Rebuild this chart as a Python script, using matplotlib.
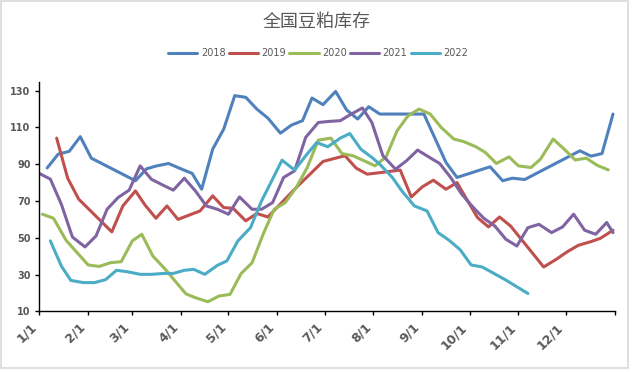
import matplotlib
matplotlib.use("Agg")
import matplotlib.pyplot as plt
from matplotlib.patches import Rectangle
import pandas as pd

plt.rcParams['font.family'] = ['DejaVu Sans', 'Noto Sans CJK SC']

# weekly stock readings, plotted on a common Jan-Dec axis
dates_2018 = ["01-06", "01-13", "01-20", "01-27", "02-03", "03-03", "03-10", "03-16", "03-24",
              "03-31", "04-08", "04-14", "04-21", "04-28", "05-05", "05-12", "05-19", "05-26",
              "06-03", "06-10", "06-17", "06-23", "06-30", "07-08", "07-15", "07-22", "07-29",
              "08-05", "09-02", "09-16", "09-23", "10-14", "10-22", "10-28", "11-05", "12-10",
              "12-17", "12-24", "12-31"]
stock_2018 = [88, 95.5, 97, 105, 93.3, 81, 87.5, 89, 90.4,
              87.8, 85, 76.4, 98.2, 109.1, 127.3, 126.4, 120, 115.1,
              106.9, 111.3, 113.7, 126, 122.4, 129.6, 119.5, 114.6, 121.3,
              117.3, 117.3, 91, 82.8, 88.6, 81, 82.4, 81.7, 97.3,
              94.4, 95.8, 117.3]

dates_2019 = ["01-12", "01-19", "01-26", "02-16", "02-23", "03-03", "03-09", "03-16", "03-23",
              "03-30", "04-13", "04-21", "04-28", "05-04", "05-12", "05-19", "05-26", "06-13",
              "06-30", "07-08", "07-14", "07-21", "07-28", "08-04", "08-18", "08-25", "09-01",
              "09-08", "09-16", "09-23", "10-06", "10-13", "10-20", "10-27", "11-17", "11-25",
              "12-02", "12-09", "12-17", "12-23", "12-31"]
stock_2019 = [104.2, 82.4, 71, 53.2, 67.3, 75.5, 67.9, 60.6, 67.3,
              60, 64.6, 72.8, 66.4, 66, 59.2, 63.2, 61.3, 77.3,
              91.5, 93.3, 94.6, 87.9, 84.6, 85.3, 86.8, 72.2, 77.7,
              81.3, 76.4, 80, 61, 55.9, 61.3, 56.4, 34.1, 38.3,
              42.4, 45.9, 47.9, 49.7, 54.1]

dates_2020 = ["01-03", "01-10", "01-18", "01-25", "02-01", "02-08", "02-15", "02-22", "03-01",
              "03-07", "03-14", "03-22", "03-29", "04-04", "04-10", "04-18", "04-25", "05-02",
              "05-09", "05-16", "05-23", "05-30", "06-06", "06-13", "06-20", "06-27", "07-05",
              "07-12", "07-19", "07-26", "08-02", "08-09", "08-16", "08-23", "08-30", "09-06",
              "09-13", "09-21", "09-27", "10-05", "10-11", "10-18", "10-26", "11-01", "11-09",
              "11-15", "11-23", "11-30", "12-07", "12-14", "12-21", "12-28"]
stock_2020 = [62.8, 60.6, 48.6, 41.9, 35.2, 34.4, 36.4, 37, 48.3,
              51.9, 40.1, 32.8, 25.6, 19.5, 17.4, 15.2, 18.3, 19.2,
              30.5, 36.4, 51.9, 65.5, 69.1, 77.3, 88.2, 103.1, 104.2,
              95.8, 94.6, 91.9, 89.1, 94, 108.2, 116.4, 120, 117.3,
              110, 103.7, 102.4, 99.5, 96.4, 90.4, 94, 89.1, 88.2,
              92.8, 103.7, 98.2, 92.3, 93.3, 89.4, 86.9]

dates_2021 = ["01-01", "01-08", "01-15", "01-22", "01-30", "02-06", "02-13", "02-20", "02-27",
              "03-06", "03-13", "03-20", "03-27", "04-03", "04-10", "04-17", "04-24", "05-01",
              "05-08", "05-16", "05-22", "05-29", "06-05", "06-12", "06-19", "06-27", "07-04",
              "07-11", "07-18", "07-25", "07-31", "08-07", "08-15", "08-22", "08-29", "09-05",
              "09-12", "09-19", "09-26", "10-03", "10-10", "10-17", "10-24", "10-31", "11-07",
              "11-14", "11-22", "11-29", "12-06", "12-13", "12-20", "12-27", "12-31"]
stock_2021 = [85, 81.9, 68.2, 50.4, 45, 51, 65.5, 71.9, 75.9,
              89.1, 81.9, 78.8, 75.9, 82.4, 75.5, 67.3, 65.5, 62.8,
              72.2, 65.5, 65.5, 69.1, 82.8, 86.4, 104.6, 112.7, 113.3,
              113.7, 117.3, 120.6, 112.7, 94.6, 87.3, 91.9, 97.7, 94,
              90.4, 82.8, 73.7, 66.8, 60.6, 56.4, 49.2, 45.5, 55.5,
              57.3, 52.8, 55.9, 62.8, 54.1, 51.9, 58.3, 52.8]

dates_2022 = ["01-08", "01-15", "01-21", "01-29", "02-05", "02-12", "02-19", "02-26", "03-06",
              "03-13", "03-21", "03-27", "04-03", "04-09", "04-16", "04-24", "04-30", "05-07",
              "05-15", "05-22", "05-29", "06-04", "06-12", "06-19", "06-26", "07-03", "07-11",
              "07-17", "07-24", "07-31", "08-05", "08-13", "08-19", "08-27", "09-04", "09-11",
              "09-18", "09-25", "10-02", "10-09", "10-16", "10-24", "10-31", "11-07"]
stock_2022 = [48.3, 34.6, 26.8, 25.6, 25.6, 27.2, 32.3, 31.5, 30.1,
              30.1, 30.6, 30.6, 32.3, 32.8, 30.1, 35, 37.4, 48.3,
              55.5, 70, 81.9, 92.2, 86.8, 94.6, 101.8, 99.5, 104.2,
              106.7, 98.2, 93.7, 90, 82.8, 75.5, 67.3, 64.6, 52.8,
              48.6, 43.5, 35.2, 34.1, 30.8, 27, 23.3, 19.7]

series = [
    ("2018", dates_2018, stock_2018, "#4f81bd"),
    ("2019", dates_2019, stock_2019, "#c0504d"),
    ("2020", dates_2020, stock_2020, "#9bbb59"),
    ("2021", dates_2021, stock_2021, "#8064a2"),
    ("2022", dates_2022, stock_2022, "#4bacc6"),
]

month_labels = ["1/1", "2/1", "3/1", "4/1", "5/1", "6/1", "7/1", "8/1", "9/1", "10/1", "11/1", "12/1"]
y_ticks = [10, 30, 50, 70, 90, 110, 130]

text_grey = "#595959"

fig = plt.figure(figsize=(6.34, 3.72), dpi=100)
ax = fig.add_axes([0.062, 0.1632, 0.9074, 0.6177])

for name, d, v, c in series:
    x = pd.to_datetime(["2021-" + s for s in d])
    ax.plot(x, v, color=c, lw=2.2, label=name, solid_joinstyle="round", solid_capstyle="round")

ax.set_xlim(pd.Timestamp("2021-01-01"), pd.Timestamp("2022-01-01"))
ax.set_ylim(10, 135)

tick_pos = list(pd.date_range("2021-01-01", "2022-01-01", freq="MS"))
ax.set_xticks(tick_pos)
ax.set_xticklabels(month_labels + [""], rotation=45, ha="right",
                   fontsize=9, fontweight="bold", color=text_grey)
ax.set_yticks(y_ticks)
ax.set_yticklabels([str(t) for t in y_ticks], fontsize=7, fontweight="bold", color=text_grey)
ax.tick_params(axis="both", direction="out", length=3.1, width=1, color="black", pad=3.2)
ax.tick_params(axis="x", pad=3.6)

for side in ["top", "right"]:
    ax.spines[side].set_visible(False)
for side in ["left", "bottom"]:
    ax.spines[side].set_color("black")
    ax.spines[side].set_linewidth(1)

fig.text(0.5, 0.942, "全国豆粕库存", ha="center", va="center", fontsize=13,
         color=text_grey, family=["Noto Sans CJK SC", "DejaVu Sans"])

leg = fig.legend(loc="center", bbox_to_anchor=(0.502, 0.857), ncol=5, frameon=False,
                 fontsize=7, handlelength=3.0, handletextpad=0.35, columnspacing=0.35)
for t in leg.get_texts():
    t.set_color(text_grey)

fig.patches.append(Rectangle((0.002, 0.012), 0.989, 0.984, transform=fig.transFigure,
                             fill=False, edgecolor="#d9d9d9", lw=1.2))

fig.savefig("out.png", dpi=100)
